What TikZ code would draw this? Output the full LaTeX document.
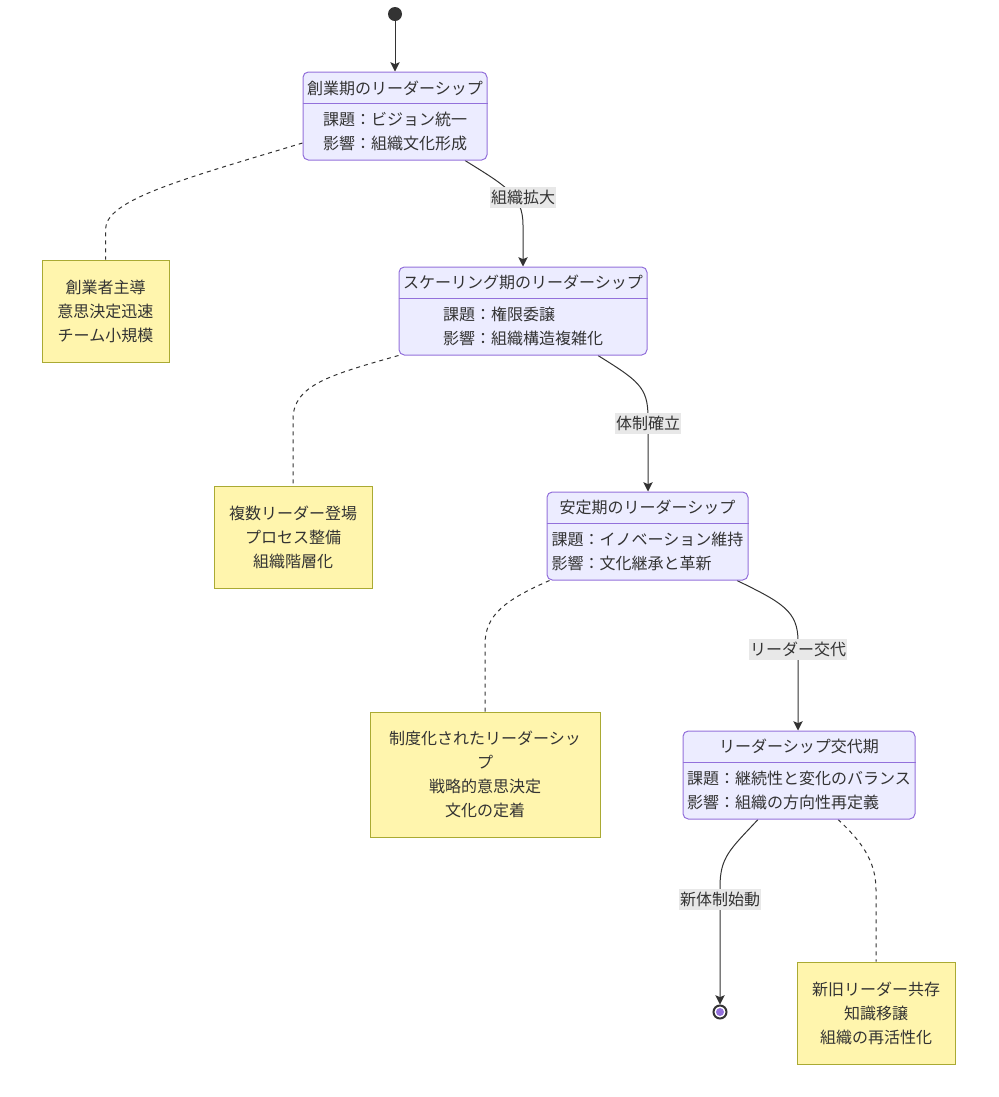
\documentclass[tikz,border=0pt]{standalone}
\usepackage{fontspec}
\setmainfont{Noto Sans CJK JP}
\usetikzlibrary{arrows.meta,calc,backgrounds}

\definecolor{ink}{HTML}{333333}
\definecolor{stfill}{HTML}{ECECFF}
\definecolor{stedge}{HTML}{9370DB}
\definecolor{notefill}{HTML}{FFF5AD}
\definecolor{noteedge}{HTML}{AAAA33}
\definecolor{lblbg}{HTML}{E8E8E8}

\tikzset{
  statebox/.style={draw=stedge, fill=stfill, line width=0.75pt, rounded corners=4pt,
    minimum height=66pt, inner sep=0pt},
  divider/.style={draw=stedge, line width=0.75pt},
  notebox/.style={draw=noteedge, fill=notefill, line width=0.75pt, align=center, inner sep=0pt},
  body/.style={align=left, inner sep=0pt},
  flow/.style={draw=ink, line width=0.75pt, -{Stealth[length=7pt,width=7pt,inset=1.5pt]}},
  noteline/.style={draw=ink, line width=0.75pt, dash pattern=on 3pt off 3pt},
  edgelabel/.style={fill=lblbg, inner sep=1pt, minimum height=15.75pt},
}

\begin{document}
\begin{tikzpicture}[x=0.75pt, y=-0.75pt,
  every node/.style={font=\fontsize{12}{18}\selectfont, text=ink}]

\newcommand\PX{0.75pt}

\useasboundingbox (0,0) rectangle (999,1097);

%% start and end
\node[circle, fill=ink, inner sep=0pt, minimum size=14*\PX] (start) at (395,14) {};
\node[circle, draw=ink, fill=white, line width=1.5pt, inner sep=0pt, minimum size=13*\PX] (end) at (720,1012) {};
\node[circle, fill=stedge, inner sep=0pt, minimum size=8*\PX] (endin) at (end) {};

%% states
\node[statebox, minimum width=184*\PX] (s1) at (395,116) {};
\node (t1) at (395,88) {創業期のリーダーシップ};
\draw[divider] (s1.west |- 0,103) -- (s1.east |- 0,103);
\node[body] (b1) at (395,131) {課題：ビジョン統一\\影響：組織文化形成};

\node[statebox, minimum width=248*\PX] (s2) at (523,311) {};
\node (t2) at (523,282) {スケーリング期のリーダーシップ};
\draw[divider] (s2.west |- 0,298) -- (s2.east |- 0,298);
\node[body] (b2) at (523,326) {課題：権限委譲\\影響：組織構造複雑化};

\node[statebox, minimum width=201*\PX] (s3) at (647.5,536) {};
\node (t3) at (647.5,507) {安定期のリーダーシップ};
\draw[divider] (s3.west |- 0,523) -- (s3.east |- 0,523);
\node[body] (b3) at (647.5,551) {課題：イノベーション維持\\影響：文化継承と革新};

\node[statebox, minimum width=232*\PX] (s4) at (799,775) {};
\node (t4) at (799,746) {リーダーシップ交代期};
\draw[divider] (s4.west |- 0,762) -- (s4.east |- 0,762);
\node[body] (b4) at (799,790) {課題：継続性と変化のバランス\\影響：組織の方向性再定義};

%% notes
\node[notebox, minimum width=127*\PX, minimum height=102*\PX] (n1) at (105.5,311) {創業者主導\\意思決定迅速\\チーム小規模};
\node[notebox, minimum width=158*\PX, minimum height=102*\PX] (n2) at (293,537) {複数リーダー登場\\プロセス整備\\組織階層化};
\node[notebox, minimum width=230*\PX, minimum height=125*\PX] (n3) at (485,774.5) {制度化されたリーダーシッ\\プ\\戦略的意思決定\\文化の定着};
\node[notebox, minimum width=158*\PX, minimum height=102*\PX] (n4) at (876,1013) {新旧リーダー共存\\知識移譲\\組織の再活性化};

%% edge labels
\node[edgelabel] (l1) at (523,197) {組織拡大};
\node[edgelabel] (l2) at (648,423) {体制確立};
\node[edgelabel] (l3) at (798,649) {リーダー交代};
\node[edgelabel] (l4) at (720,899) {新体制始動};

%% connectors
\begin{pgfonlayer}{background}
\draw[flow] (start) -- (s1);
\draw[flow] ($(s1.south)+(70,0)$) .. controls +(40,25) and +(0,-30) .. ($(l1.center)+(0,28)$) -- (s2.north -| l1);
\draw[flow] ($(s2.south)+(75,0)$) .. controls +(40,25) and +(0,-30) .. ($(l2.center)+(0,-6)$) -- (s3.north -| l2);
\draw[flow] ($(s3.south)+(89.5,0)$) .. controls +(45,22) and +(0,-30) .. ($(l3.center)+(0,-8)$) -- (s4.north -| l3);
\draw[flow] ($(s4.south)+(-41,0)$) .. controls +(-28,30) and +(0,-30) .. ($(l4.center)+(0,-12)$) -- (end);

\draw[noteline] ($(s1.west)+(0,27)$) .. controls (180,180) and (105.5,200) .. ($(n1.north)+(0,-30)$) -- (n1.north);
\draw[noteline] (s2.south west) .. controls (330,375) and (293,385) .. ($(n2.north)+(0,-66)$) -- (n2.north);
\draw[noteline] ($(s3.south west)+(3,0)$) .. controls (505,600) and (485,615) .. ($(n3.north)+(0,-67)$) -- (n3.north);
\draw[noteline] ($(s4.south)+(39,0)$) .. controls (860,840) and (876,860) .. ($(n4.north)+(0,-72)$) -- (n4.north);
\end{pgfonlayer}

\end{tikzpicture}
\end{document}
